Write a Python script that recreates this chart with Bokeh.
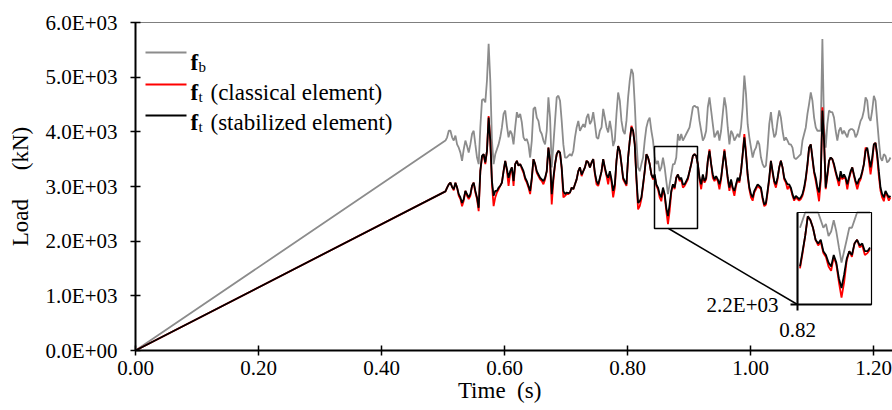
import numpy as np
from bokeh.plotting import figure
from bokeh.models import (Range1d, FixedTicker, Label, Arrow, BoxAnnotation, Span)
from bokeh.embed import file_html
from bokeh.resources import INLINE

# ---------------- data ----------------
t_start = 0.504
t_step = 0.0027
n_steps = 269
time_s = np.concatenate([[0.0], np.round(t_start + t_step * np.arange(n_steps), 4)])

f_b = [0,
    3840, 3900, 4020, 4020, 3900, 3840, 3930, 3770, 3710, 3620,
    3470, 3680, 3840, 3740, 3620, 3770, 3960, 4020, 3770, 3530,
    3410,
    4080, 4580, 4600, 4540, 4940, 5610, 4940, 3840, 3410, 3590,
    3680, 3770, 3900, 4080, 4330, 4390, 4110, 3900, 4020, 3960,
    3770, 4080, 4360, 4260, 4330, 4170, 3900, 3840, 3870, 3770,
    3530, 3840, 4420, 4450, 4260, 4200, 4020, 3960, 3840, 3770,
    4020, 4630, 4260, 3350, 3770, 4200, 4630, 4660, 4570, 4200,
    3770, 3530, 3530, 3560, 3590, 3560, 3650, 3900, 4080, 4200,
    4020, 4080, 4140, 4080, 4260, 4330, 4140, 4200, 4360, 4140,
    3900, 3870, 4020, 4080, 4420, 4260, 4080, 3990, 4200, 4020,
    3740, 3840, 4330, 4720, 4570, 4200, 4020, 3960, 4200, 4630,
    4940, 5150, 5060, 4510, 3840, 3350, 3280, 3410, 3530, 3840,
    4080, 4200, 4260, 4020, 3840, 3530, 3410, 3470, 3280, 3350,
    3530, 3350, 3100, 2860, 3040, 3220, 3410, 3410, 3530, 3960,
    3840, 3960, 3840, 3900, 3960, 4020, 4080, 4260, 4450, 4480,
    4450, 4450, 4200, 4020, 3840, 3900, 4020, 4450, 4630, 4390,
    4140, 3900, 3960, 4020, 3840, 4020, 4330, 4630, 4450, 4080,
    3770, 4020, 3960, 3840, 3900, 3960, 3900, 4080, 4450, 5030,
    4690, 4140, 3900, 3710, 3530, 3650, 3710, 3840, 3770, 3530,
    3410, 3350, 3380, 3710, 4140, 4360, 4080, 3900, 3960, 4200,
    4390, 4260, 4020, 3840, 3900, 3840, 3770, 3770, 3710, 3530,
    3500, 3530, 3560, 3590, 3840, 3960, 4080, 4330, 4510, 4720,
    4570, 4260, 4080, 4020, 4020, 4020, 5700, 4080, 3710, 4140,
    4390, 4360, 4360, 4260, 4020, 3840, 4020, 4080, 3960, 4020,
    3960, 3900, 4020, 4050, 4050, 4020, 3900, 3960, 4080, 4200,
    4260, 4390, 4630, 4570, 4260, 4200, 4390, 4660, 4570, 4200,
    3840, 3530, 3470, 3590, 3560, 3440, 3470, 3530]

f_t_classical = [0,
    2910, 2980, 3040, 3070, 2990, 2930, 3070, 2980, 2830, 2770,
    2640, 2740, 2920, 2830, 2770, 2830, 3010, 3070, 2890, 2770,
    2550,
    3280, 3530, 3590, 3410, 3650, 4290, 3840, 3040, 2640, 2800,
    2890, 2950, 3010, 3070, 3280, 3470, 3290, 3010, 3250, 3350,
    3010, 3410, 3470, 3380, 3410, 3320, 3250, 3130, 3070, 2980,
    2860, 3130, 3500, 3410, 3250, 3190, 3130, 3100, 3040, 3130,
    3280, 3710, 3440, 2670, 3100, 3410, 3590, 3650, 3620, 3320,
    2800, 2830, 2860, 2860, 2890, 2980, 2950, 3040, 3130, 3280,
    3350, 3190, 3280, 3350, 3470, 3440, 3350, 3440, 3500, 3220,
    3040, 3010, 3130, 3280, 3500, 3320, 3190, 3040, 3250, 3070,
    2800, 2980, 3470, 3740, 3650, 3410, 3130, 3070, 3010, 3530,
    3840, 4110, 4020, 3770, 3130, 2580, 2640, 2770, 3010, 3280,
    3590, 3530, 3410, 3220, 3130, 3190, 3010, 2950, 2800, 2730,
    2950, 2830, 2550, 2310, 2550, 2890, 3040, 2950, 3160, 3220,
    3100, 3130, 2980, 3010, 3070, 3130, 3280, 3410, 3560, 3590,
    3560, 3410, 3130, 2950, 3190, 3070, 3130, 3470, 3680, 3410,
    3160, 3100, 3160, 3100, 2950, 3130, 3410, 3680, 3410, 3130,
    2920, 3100, 2950, 2830, 3010, 3130, 3070, 3280, 3590, 3960,
    3620, 3190, 2950, 2800, 2740, 2890, 2950, 3010, 2980, 2950,
    2770, 2640, 2670, 2890, 3130, 3470, 3250, 3070, 2980, 3130,
    3350, 3470, 3350, 3130, 3070, 2950, 3010, 2950, 2830, 2740,
    2800, 2770, 2740, 2770, 2830, 2950, 3130, 3380, 3710, 3770,
    3500, 3250, 3100, 2920, 2730, 3100, 4450, 3840, 2950, 3190,
    3470, 3530, 3500, 3380, 3250, 3130, 3010, 3220, 3130, 3190,
    3130, 2950, 3130, 3250, 3350, 3190, 3070, 2950, 3070, 3130,
    3250, 3410, 3710, 3680, 3470, 3220, 3440, 3770, 3800, 3530,
    3190, 2920, 2800, 2730, 2890, 2830, 2740, 2800]

f_t_stabilized = [0,
    2910, 2980, 3040, 3070, 2990, 2950, 3070, 2980, 2860, 2800,
    2700, 2770, 2920, 2860, 2800, 2860, 3010, 3070, 2920, 2800,
    2610,
    3280, 3560, 3590, 3440, 3650, 4260, 3840, 3100, 2830, 2920,
    2920, 2980, 3010, 3070, 3280, 3470, 3320, 3160, 3280, 3350,
    3100, 3410, 3470, 3380, 3410, 3350, 3280, 3160, 3100, 3010,
    2920, 3160, 3500, 3410, 3280, 3220, 3160, 3130, 3100, 3160,
    3280, 3710, 3470, 2860, 3160, 3410, 3590, 3650, 3620, 3350,
    2920, 2860, 2890, 2880, 2890, 2980, 2950, 3040, 3130, 3280,
    3350, 3220, 3280, 3350, 3470, 3440, 3350, 3440, 3500, 3250,
    3100, 3040, 3160, 3280, 3500, 3350, 3220, 3160, 3280, 3130,
    2920, 3040, 3470, 3740, 3650, 3410, 3160, 3100, 3040, 3530,
    3840, 4080, 4020, 3770, 3160, 2700, 2730, 2800, 3040, 3280,
    3590, 3530, 3410, 3220, 3160, 3220, 3040, 2980, 2860, 2800,
    2980, 2860, 2610, 2460, 2670, 2920, 3040, 2980, 3160, 3220,
    3130, 3160, 3040, 3040, 3100, 3160, 3280, 3410, 3560, 3590,
    3560, 3410, 3160, 3040, 3220, 3100, 3160, 3470, 3650, 3410,
    3220, 3130, 3190, 3130, 3040, 3160, 3410, 3650, 3410, 3160,
    2980, 3130, 2980, 2920, 3040, 3160, 3100, 3280, 3590, 3900,
    3590, 3220, 2980, 2860, 2800, 2920, 2980, 3040, 3010, 2980,
    2800, 2670, 2700, 2920, 3160, 3470, 3280, 3100, 3040, 3160,
    3350, 3470, 3350, 3160, 3100, 3040, 3040, 2980, 2860, 2770,
    2830, 2800, 2770, 2800, 2860, 2980, 3160, 3410, 3710, 3770,
    3530, 3280, 3160, 2980, 2890, 3160, 4390, 3840, 2980, 3220,
    3470, 3530, 3500, 3410, 3280, 3160, 3100, 3280, 3160, 3220,
    3160, 3040, 3160, 3280, 3350, 3220, 3100, 3040, 3130, 3160,
    3280, 3410, 3650, 3710, 3530, 3350, 3530, 3770, 3800, 3590,
    3280, 2980, 2860, 2800, 2920, 2860, 2800, 2830]

x_ticks = [0.0, 0.2, 0.4, 0.6, 0.8, 1.0, 1.2]
x_tick_labels = ["0.00", "0.20", "0.40", "0.60", "0.80", "1.00", "1.20"]
y_ticks = [0, 1000, 2000, 3000, 4000, 5000, 6000]
y_tick_labels = ["0.0E+00", "1.0E+03", "2.0E+03", "3.0E+03", "4.0E+03", "5.0E+03", "6.0E+03"]

inset_x = (0.82, 0.897)
inset_y = (2200, 3650)
inset_x_label = "0.82"
inset_y_label = "2.2E+03"

NB = "\u00a0"
x_title = "Time" + NB + " (s)" + NB * 5     # trailing pad moves the centred title left
y_title = "Load " + NB * 3 + " (kN)"

# ---------------- layout ----------------
FONT = "Times New Roman"
W, H = 892, 410
MB_L, MB_T, MB_B = 135, 22, 60
FRAME_W = W - MB_L
FRAME_H = H - MB_T - MB_B
PX_PER_S = 615.0
X_END = FRAME_W / PX_PER_S
Y_END = 6000

def px2t(px):
    return (px - MB_L) / PX_PER_S

def py2kn(py):
    return (MB_T + FRAME_H - py) / FRAME_H * Y_END

p = figure(width=W, height=H, x_range=Range1d(0, X_END), y_range=Range1d(0, Y_END),
           output_backend="svg", toolbar_location=None,
           min_border_left=MB_L, min_border_right=0, min_border_top=MB_T,
           min_border_bottom=MB_B)
p.grid.visible = False
p.outline_line_color = None

t = np.array(time_s)
fb = np.array(f_b, dtype=float)
ftc = np.array(f_t_classical, dtype=float)
fts = np.array(f_t_stabilized, dtype=float)

GRAY = "#8c8c8c"
p.line(t, fb, line_color=GRAY, line_width=1.8)
p.line(t, ftc, line_color="#ff0000", line_width=1.8)
p.line(t, fts, line_color="#000000", line_width=1.8)

for ax in (p.xaxis[0], p.yaxis[0]):
    ax.axis_line_width = 2
    ax.axis_line_color = "black"
    ax.major_tick_line_color = "black"
    ax.major_tick_line_width = 1.5
    ax.major_tick_in = 5
    ax.major_tick_out = 5
    ax.minor_tick_line_color = None
    ax.major_label_text_font = FONT
    ax.major_label_text_font_size = "21px"
    ax.major_label_text_color = "black"
    ax.axis_label_text_font = FONT
    ax.axis_label_text_font_size = "23px"
    ax.axis_label_text_font_style = "normal"
    ax.axis_label_text_color = "black"

p.xaxis.ticker = FixedTicker(ticks=x_ticks)
p.xaxis.major_label_overrides = dict(zip(x_ticks, x_tick_labels))
p.xaxis.major_label_standoff = 5
p.xaxis.axis_label = x_title
p.xaxis.axis_label_standoff = 0
p.yaxis.ticker = FixedTicker(ticks=y_ticks)
p.yaxis.major_label_overrides = dict(zip(y_ticks, y_tick_labels))
p.yaxis.major_label_standoff = 13
p.yaxis.axis_label = y_title
p.yaxis.axis_label_standoff = 10

p.add_layout(Span(location=Y_END, dimension="width", line_color="black", line_width=1))

leg_rows = [(GRAY, "b", ""), ("#ff0000", "t", "(classical element)"),
            ("#000000", "t", "(stabilized element)")]
leg_line_y = [52, 84, 115]
leg_base_y = [62, 92, 122]
for (col, sub, rest), ly, by in zip(leg_rows, leg_line_y, leg_base_y):
    p.add_layout(Arrow(end=None, x_start=px2t(145), y_start=py2kn(ly), x_end=px2t(186),
                       y_end=py2kn(ly), line_color=col, line_width=2))
    p.add_layout(Label(x=px2t(190), y=py2kn(by), text="f", text_font=FONT,
                       text_font_style="bold", text_font_size="23px", text_color="black",
                       text_baseline="alphabetic"))
    p.add_layout(Label(x=px2t(198), y=py2kn(by + 4), text=sub, text_font=FONT,
                       text_font_size="15px", text_color="black", text_baseline="alphabetic"))
    if rest:
        p.add_layout(Label(x=px2t(210), y=py2kn(by), text=rest, text_font=FONT,
                           text_font_size="23px", text_color="black",
                           text_baseline="alphabetic"))

p.add_layout(BoxAnnotation(left=px2t(654), right=px2t(697), top=py2kn(146), bottom=py2kn(228),
                           fill_color=None, fill_alpha=0, line_color="black", line_alpha=1,
                           line_width=1.5))
p.add_layout(Arrow(end=None, x_start=px2t(668), y_start=py2kn(228), x_end=px2t(797),
                   y_end=py2kn(304), line_color="black", line_width=1.5))

IL, IR, IT, IB = 797, 871, 212, 304
def ix(tt):
    return px2t(IL + (tt - inset_x[0]) / (inset_x[1] - inset_x[0]) * (IR - IL))

def iy(v):
    return py2kn(IB - (v - inset_y[0]) / (inset_y[1] - inset_y[0]) * (IB - IT))

m = (t >= inset_x[0]) & (t <= inset_x[1])
tin = t[m]
p.line(ix(tin), iy(np.clip(fb[m], inset_y[0], inset_y[1])), line_color=GRAY, line_width=1.8)
p.line(ix(tin), iy(np.clip(ftc[m], inset_y[0], inset_y[1])), line_color="#ff0000", line_width=1.8)
p.line(ix(tin), iy(np.clip(fts[m], inset_y[0], inset_y[1])), line_color="#000000", line_width=1.8)

p.add_layout(BoxAnnotation(left=px2t(IL), right=px2t(IR), top=py2kn(IT), bottom=py2kn(IB),
                           fill_color=None, fill_alpha=0, line_color="black", line_alpha=1,
                           line_width=1.2))
p.add_layout(Arrow(end=None, x_start=px2t(IL - 7), y_start=py2kn(IB), x_end=px2t(IR),
                   y_end=py2kn(IB), line_color="black", line_width=2))
p.add_layout(Arrow(end=None, x_start=px2t(IL), y_start=py2kn(IT), x_end=px2t(IL),
                   y_end=py2kn(IB + 6), line_color="black", line_width=2))
p.add_layout(Label(x=px2t(IL - 19), y=py2kn(IB), text=inset_y_label, text_align="right",
                   text_baseline="middle", text_font=FONT, text_font_size="21px",
                   text_color="black"))
p.add_layout(Label(x=px2t(IL), y=py2kn(IB + 25), text=inset_x_label, text_align="center",
                   text_baseline="middle", text_font=FONT, text_font_size="21px",
                   text_color="black"))

open("out.html", "w").write(file_html(p, INLINE))
